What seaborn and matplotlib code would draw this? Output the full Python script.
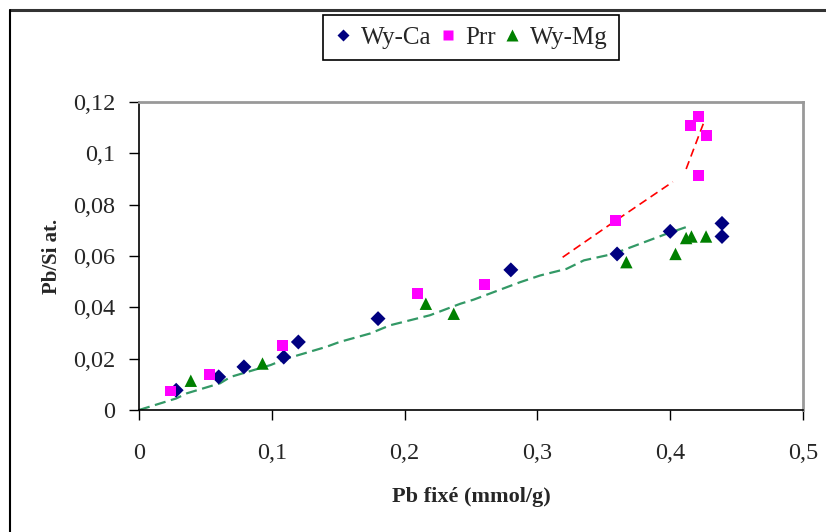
"""
Pb/Si ratio vs fixed Pb for the three clays
"""
import matplotlib
matplotlib.use('Agg')
import matplotlib.pyplot as plt
import seaborn as sns
import pandas as pd
from matplotlib.lines import Line2D
from matplotlib.ticker import FuncFormatter

# data
wyca_x = [0.028, 0.060, 0.079, 0.109, 0.120, 0.180, 0.280, 0.360, 0.400, 0.439, 0.439]
wyca_y = [0.0077, 0.0129, 0.0168, 0.0206, 0.0265, 0.0356, 0.0546, 0.0608, 0.0696, 0.0727, 0.0676]

prr_x = [0.024, 0.053, 0.108, 0.210, 0.260, 0.359, 0.415, 0.421, 0.427, 0.421]
prr_y = [0.0074, 0.0139, 0.0250, 0.0453, 0.0490, 0.0738, 0.1110, 0.1143, 0.1071, 0.0913]

wymg_x = [0.039, 0.093, 0.216, 0.237, 0.367, 0.404, 0.412, 0.416, 0.427]
wymg_y = [0.0114, 0.0181, 0.0414, 0.0375, 0.0576, 0.0608, 0.0670, 0.0676, 0.0676]

# dashed trend lines
green_x = [0.0, 0.028, 0.036, 0.061, 0.069, 0.099, 0.111, 0.141, 0.151, 0.174, 0.189,
           0.219, 0.242, 0.252, 0.287, 0.302, 0.322, 0.335, 0.357, 0.377, 0.397, 0.415]
green_y = [0.0, 0.0045, 0.0065, 0.0104, 0.0129, 0.0175, 0.0200, 0.0246, 0.0265, 0.0298, 0.0330,
           0.0369, 0.0414, 0.0430, 0.0498, 0.0524, 0.0550, 0.0583, 0.0608, 0.0647, 0.0686, 0.0718]
red_x1 = [0.319, 0.359, 0.402]
red_y1 = [0.0595, 0.0738, 0.0889]
red_x2 = [0.412, 0.426]
red_y2 = [0.0939, 0.1130]

series = ['Wy-Ca', 'Prr', 'Wy-Mg']
colors = {'Wy-Ca': '#000080', 'Prr': '#FF00FF', 'Wy-Mg': '#008000'}
markers = {'Wy-Ca': 'D', 'Prr': 's', 'Wy-Mg': '^'}

df = pd.concat([
    pd.DataFrame({'x': wyca_x, 'y': wyca_y, 'serie': 'Wy-Ca'}),
    pd.DataFrame({'x': prr_x, 'y': prr_y, 'serie': 'Prr'}),
    pd.DataFrame({'x': wymg_x, 'y': wymg_y, 'serie': 'Wy-Mg'}),
], ignore_index=True)

sns.set_style('white')
plt.rcParams['font.family'] = ['Liberation Serif', 'DejaVu Serif']

fig = plt.figure(figsize=(8.26, 5.32), dpi=100)
ax = fig.add_axes([139 / 826, 1 - 410 / 532, 664 / 826, 308 / 532])

# trend lines
sns.lineplot(x=green_x, y=green_y, ax=ax, color='#339966', lw=1.6,
             linestyle=(0, (5, 2.5)), sort=False)
sns.lineplot(x=red_x1, y=red_y1, ax=ax, color='#FF0000', lw=1.2,
             linestyle=(0, (5, 3)), sort=False)
sns.lineplot(x=red_x2, y=red_y2, ax=ax, color='#FF0000', lw=1.2,
             linestyle=(0, (5, 3)), sort=False)

# points
for name, ss in zip(series, [58, 62, 80]):
    sub = df[df['serie'] == name]
    sns.scatterplot(data=sub, x='x', y='y', ax=ax, color=colors[name],
                    marker=markers[name], s=ss, edgecolor='none', zorder=3)

ax.set_xlim(0, 0.5)
ax.set_ylim(0, 0.12)
ax.set_xticks([0, 0.1, 0.2, 0.3, 0.4, 0.5])
ax.set_yticks([0, 0.02, 0.04, 0.06, 0.08, 0.1, 0.12])
comma = FuncFormatter(lambda v, p: ('%g' % round(v, 3)).replace('.', ','))
ax.xaxis.set_major_formatter(comma)
ax.yaxis.set_major_formatter(comma)
ax.tick_params(axis='both', which='major', labelsize=17.5, length=7, width=1,
               color='black', direction='out', bottom=True, left=True)
ax.tick_params(axis='x', pad=17)
ax.tick_params(axis='y', pad=10)

for side in ['left', 'bottom']:
    ax.spines[side].set_color('black')
    ax.spines[side].set_linewidth(1.2)
for side in ['top', 'right']:
    ax.spines[side].set_color('#999999')
    ax.spines[side].set_linewidth(2)

ax.set_xlabel('Pb fixé (mmol/g)', fontsize=16, fontweight='bold', labelpad=16)
ax.set_ylabel('Pb/Si at.', fontsize=15, fontweight='bold', labelpad=8)

handles = [Line2D([], [], ls='none', marker=markers[n], color=colors[n],
                  markeredgecolor='none', markersize=ms)
           for n, ms in zip(series, [6, 7, 8])]
leg = ax.legend(handles, series, loc='upper center', ncol=3,
                bbox_to_anchor=(471 / 826, 1 - 15 / 532), bbox_transform=fig.transFigure,
                borderaxespad=0, fontsize=18, frameon=True, fancybox=False, framealpha=1,
                handlelength=0.7, handletextpad=0.35, columnspacing=0.3,
                borderpad=0.45)
leg.get_frame().set_edgecolor('black')
leg.get_frame().set_linewidth(1.2)

# outer chart border (top and left visible)
fig.add_artist(Line2D([10 / 826, 1.0], [1 - 10 / 532, 1 - 10 / 532],
                      transform=fig.transFigure, color='#333333', lw=2.2))
fig.add_artist(Line2D([10 / 826, 10 / 826], [0.0, 1 - 10 / 532],
                      transform=fig.transFigure, color='black', lw=1.5))

fig.savefig('out.png', dpi=100)
